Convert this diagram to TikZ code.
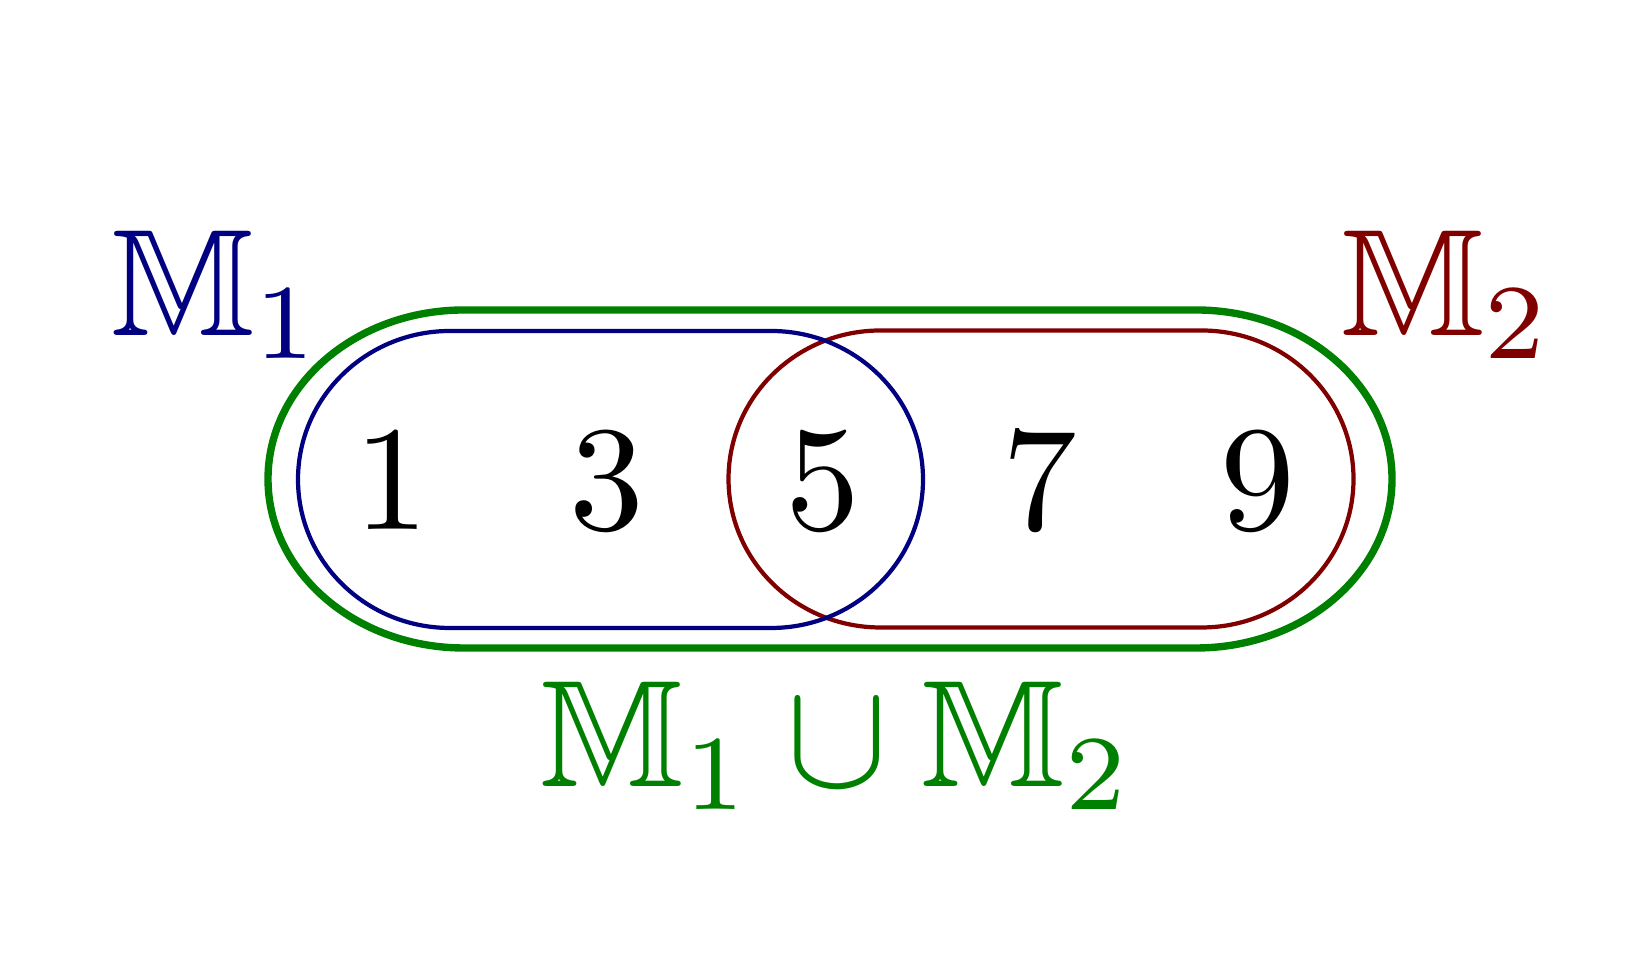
\documentclass[tikz,border=0pt]{standalone}
\usepackage{amssymb}
\newcommand{\pill}[6]{%
    \draw[#1] ({#2-#4},{#3+#6}) -- ({#2+#4},{#3+#6})
        arc[start angle=90, end angle=-90, x radius=#5, y radius=#6]
        -- ({#2-#4},{#3-#6})
        arc[start angle=270, end angle=90, x radius=#5, y radius=#6] -- cycle;}
\tikzset{
            elem/.style={scale=4.25, anchor=base},
            setlabel/.style={scale=4.33, anchor=base},
            blueset/.style={draw=blue!50!black, line width=1.2pt},
            redset/.style={draw=red!50!black, line width=1.2pt},
            unionset/.style={draw=green!50!black, line width=2.1pt}
        }
\begin{document}
\begin{tikzpicture}[
                    every node/.style={inner sep=0pt}
                    ]
                \useasboundingbox (0,0) rectangle (16.52,9.74);
                % the two sets and their union
                \pill{unionset}{8.30}{4.95}{3.66}{1.96}{1.69}
                \pill{redset}{10.41}{4.95}{1.605}{1.52}{1.485}
                \pill{blueset}{6.105}{4.945}{1.605}{1.52}{1.485}
                % elements
                \node[elem] (n1) at (3.92,4.44) {$1$};
                \node[elem] (n3) at (6.07,4.44) {$3$};
                \node[elem] (n5) at (8.23,4.44) {$5$};
                \node[elem] (n7) at (10.40,4.44) {$7$};
                \node[elem] (n9) at (12.58,4.44) {$9$};
                % labels
                \node[setlabel, text=blue!50!black] (m1) at (2.17,6.38) {$\mathbb{M}_1$};
                \node[setlabel, text=red!50!black] (m2) at (14.47,6.38) {$\mathbb{M}_2$};
                \node[setlabel, text=green!50!black] (m12) at (8.37,1.87) {$\mathbb{M}_1 \cup \mathbb{M}_2$};
            \end{tikzpicture}
\end{document}
